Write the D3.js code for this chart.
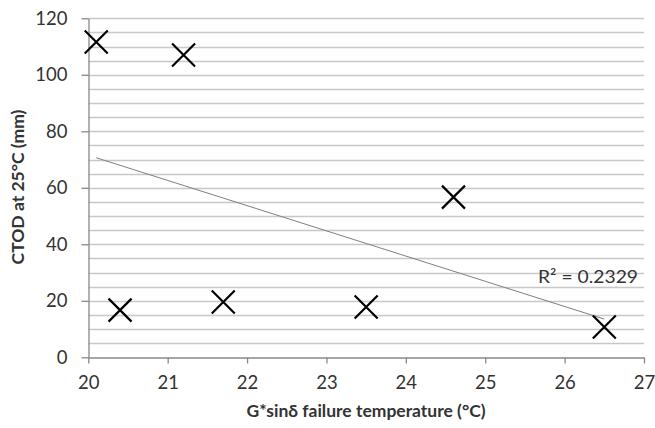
<!DOCTYPE html>
<html><head><meta charset="utf-8">
<script src="https://cdn.jsdelivr.net/npm/d3@7"></script>
<style>body{margin:0;background:#fff}text{font-family:Lato,"Open Sans",sans-serif}</style>
</head><body>
<svg id="c" width="655" height="428"></svg>
<script>
const tempX = [20.1, 21.2, 20.4, 21.7, 23.5, 24.6, 26.5];
const ctodY = [111.6, 107.0, 16.7, 19.6, 17.8, 56.7, 10.7];
const xTicks = [20, 21, 22, 23, 24, 25, 26, 27];
const yTicks = [0, 20, 40, 60, 80, 100, 120];
const r2Label = "R² = 0.2329";

const svg = d3.select("#c");
const x = d3.scaleLinear().domain([20, 27]).range([88.3, 644]);
const y = d3.scaleLinear().domain([0, 120]).range([357.3, 18.3]);

// gridlines every 5
const grid = d3.range(5, 121, 5);
svg.append("g").selectAll("line").data(grid).join("line")
  .attr("x1", x(20)).attr("x2", x(27))
  .attr("y1", d => Math.round(y(d)) + 0.5).attr("y2", d => Math.round(y(d)) + 0.5)
  .attr("stroke", "#c8c8c8").attr("stroke-width", 1.3);

// axes
const xa = svg.append("g").attr("transform", `translate(0,${Math.round(y(0))+0.5})`)
  .call(d3.axisBottom(x).tickValues(xTicks).tickFormat(d3.format("d")).tickSize(6).tickPadding(12).tickSizeOuter(0));
const ya = svg.append("g").attr("transform", `translate(${Math.round(x(20))+0.5},0)`)
  .call(d3.axisLeft(y).tickValues(yTicks).tickFormat(d3.format("d")).tickSize(7).tickPadding(14).tickSizeOuter(0));
[xa, ya].forEach(a => {
  a.selectAll("path,line").attr("stroke", "#888").attr("stroke-width", 1.3);
  a.selectAll("text").attr("font-size", 18.5).attr("fill", "#333").attr("font-family", "Lato, 'Open Sans', sans-serif");
});

// trendline via least squares
const n = tempX.length;
const mx = d3.mean(tempX), my = d3.mean(ctodY);
let sxy = 0, sxx = 0;
for (let i = 0; i < n; i++) { sxy += (tempX[i]-mx)*(ctodY[i]-my); sxx += (tempX[i]-mx)**2; }
const slope = sxy / sxx, icpt = my - slope * mx;
const x0 = d3.min(tempX), x1 = d3.max(tempX);
svg.append("line")
  .attr("x1", x(x0)).attr("y1", y(icpt + slope*x0))
  .attr("x2", x(x1)).attr("y2", y(icpt + slope*x1))
  .attr("stroke", "#7f7f7f").attr("stroke-width", 1);

// markers
const s = 11.5;
svg.append("g").selectAll("path").data(tempX.map((t,i)=>[t, ctodY[i]])).join("path")
  .attr("d", d => {
    const cx = x(d[0]), cy = y(d[1]);
    return `M${cx-s},${cy-s}L${cx+s},${cy+s}M${cx-s},${cy+s}L${cx+s},${cy-s}`;
  })
  .attr("stroke", "#000").attr("stroke-width", 2.2).attr("fill", "none");

// R² label
svg.append("text").attr("x", 638).attr("y", 283).attr("text-anchor", "end")
  .attr("font-size", 18).attr("fill", "#333").attr("font-family", "'Open Sans', Lato, sans-serif")
  .attr("textLength", 100).attr("lengthAdjust", "spacingAndGlyphs").text(r2Label);

// axis titles
svg.append("text").attr("x", 366).attr("y", 417).attr("text-anchor", "middle")
  .attr("font-size", 17.5).attr("font-weight", "bold").attr("fill", "#333")
  .text("G*sinδ failure temperature (°C)");
svg.append("text").attr("transform", "translate(24,187) rotate(-90)").attr("text-anchor", "middle")
  .attr("font-size", 17.5).attr("font-weight", "bold").attr("fill", "#333")
  .text("CTOD at 25°C (mm)");
</script>
</body></html>
